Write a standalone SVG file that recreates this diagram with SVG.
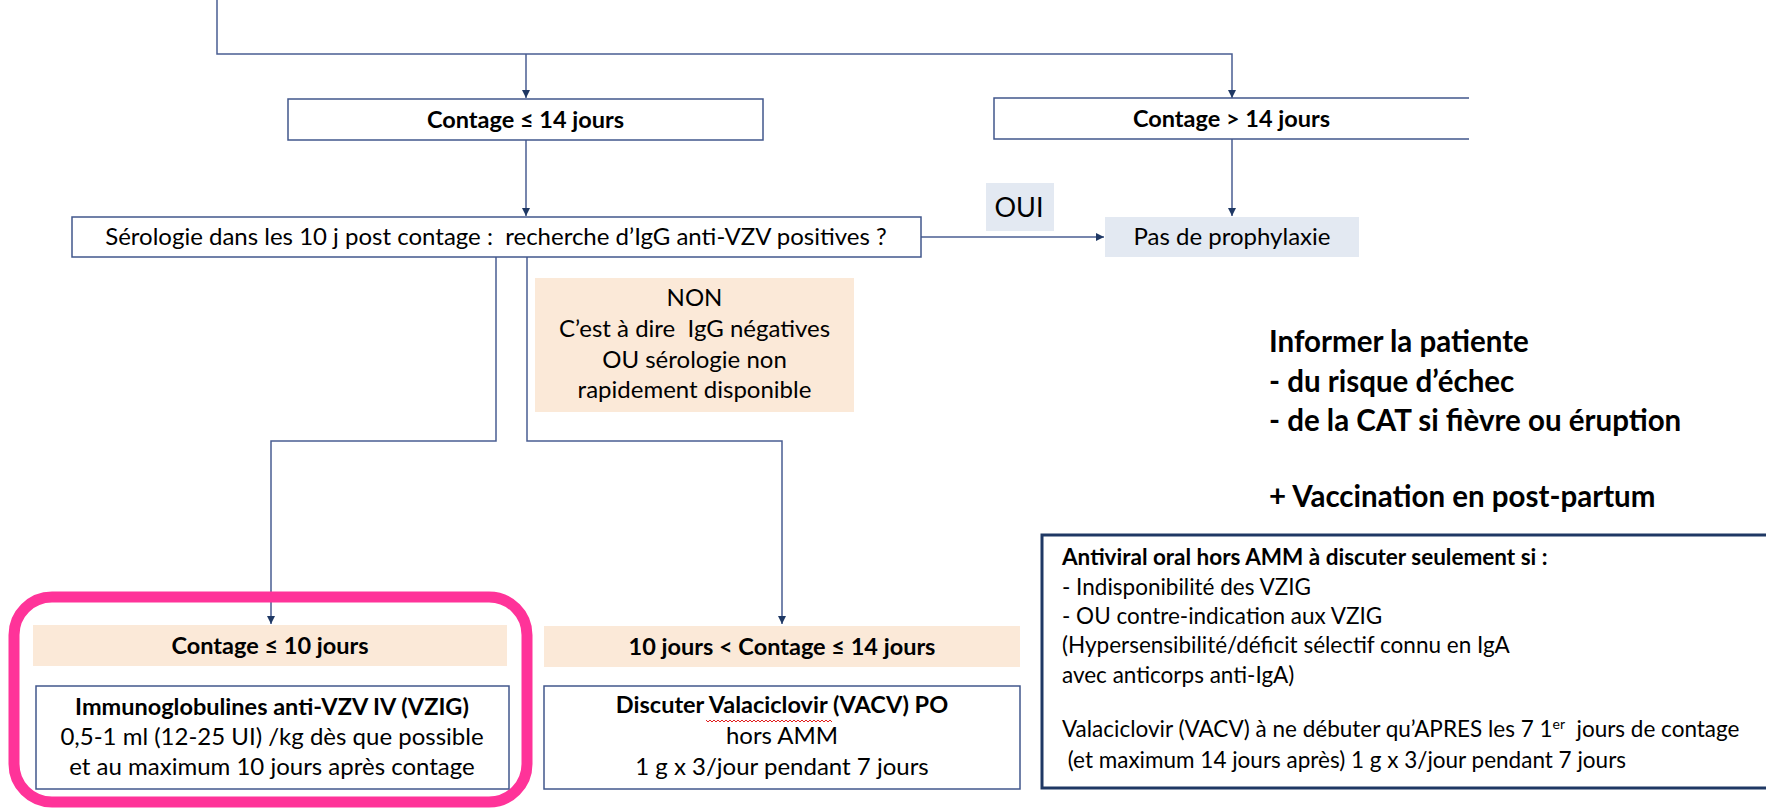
<svg xmlns="http://www.w3.org/2000/svg" width="1769" height="808" viewBox="0 0 1769 808">
<style>
text{font-family:Lato,"Open Sans","Liberation Sans",sans-serif;fill:#000}
.c{text-anchor:middle}
.b{font-weight:bold}
.box{fill:#fff;stroke:#41578C;stroke-width:1.5}
.peach{fill:#FBE9D8}
.blue{fill:#E3E9F2}
.con{fill:none;stroke:#4A5E92;stroke-width:1.5}
.t22{font-size:24px}
.tb{font-size:23.5px;font-weight:bold}
.big{font-size:29.5px;font-weight:bold}
.sm{font-size:22.5px}
</style>
<defs>
<marker id="ah" viewBox="0 0 10 10" refX="10" refY="5" markerWidth="8" markerHeight="8" markerUnits="userSpaceOnUse" orient="auto">
<path d="M0,0 L10,5 L0,10 z" fill="#1F3864"/>
</marker>
</defs>
<rect width="1769" height="808" fill="#fff"/>

<g id="connectors">
<path class="con" d="M217,0 V54 H1232 V98" marker-end="url(#ah)"/>
<path class="con" d="M526,54 V98" marker-end="url(#ah)"/>
<path class="con" d="M526,140 V216" marker-end="url(#ah)"/>
<path class="con" d="M1232,139 V216" marker-end="url(#ah)"/>
<path class="con" d="M921,237 H1104" marker-end="url(#ah)"/>
<path class="con" d="M496,257 V441 H271 V624" marker-end="url(#ah)"/>
<path class="con" d="M527,257 V441 H782 V624" marker-end="url(#ah)"/>
</g>

<g id="n-contage-le14">
<rect class="box" x="288" y="99" width="475" height="41"/>
<text class="c tb" x="525.5" y="128">Contage ≤ 14 jours</text>
</g>

<g id="n-contage-gt14">
<path d="M1469,98 H994 V139 H1469" fill="#fff" stroke="#41578C" stroke-width="1.5"/>
<text class="c tb" x="1231.5" y="127">Contage &gt; 14 jours</text>
</g>

<g id="n-serologie">
<rect class="box" x="72" y="217" width="849" height="40"/>
<text class="c t22" x="496" y="245">Sérologie dans les 10 j post contage :&#160; recherche d’IgG anti-VZV positives ?</text>
</g>

<g id="n-oui">
<rect class="blue" x="986" y="183" width="68" height="48"/>
<text class="c" x="1019" y="217" font-size="27">OUI</text>
</g>

<g id="n-pas-prophylaxie">
<rect class="blue" x="1105" y="217" width="254" height="40"/>
<text class="c t22" x="1232" y="245">Pas de prophylaxie</text>
</g>

<g id="n-non">
<rect class="peach" x="535" y="278" width="319" height="134"/>
<text class="c t22" x="694.5" y="306">NON</text>
<text class="c t22" x="694.5" y="337">C’est à dire&#160; IgG négatives</text>
<text class="c t22" x="694.5" y="367.5">OU sérologie non</text>
<text class="c t22" x="694.5" y="398">rapidement disponible</text>
</g>

<g id="n-informer">
<text class="big" x="1269" y="352">Informer la patiente</text>
<text class="big" x="1269" y="392">- du risque d’échec</text>
<text class="big" x="1269" y="431">- de la CAT si fièvre ou éruption</text>
<text class="big" x="1269" y="507">+ Vaccination en post-partum</text>
</g>

<g id="n-highlight">
<rect x="14" y="597" width="513" height="205" rx="38" ry="38" fill="none" stroke="#FF3399" stroke-width="11"/>
</g>

<g id="n-contage-le10">
<rect class="peach" x="33" y="625" width="474" height="41"/>
<text class="c tb" x="270" y="654">Contage ≤ 10 jours</text>
</g>

<g id="n-vzig">
<rect class="box" x="36" y="686" width="473" height="103"/>
<text class="c tb" x="272" y="715">Immunoglobulines anti-VZV IV (VZIG)</text>
<text class="c t22" x="272" y="745">0,5-1 ml (12-25 UI) /kg dès que possible</text>
<text class="c t22" x="272" y="775">et au maximum 10 jours après contage</text>
</g>

<g id="n-contage-10-14">
<rect class="peach" x="544" y="626" width="476" height="41"/>
<text class="c tb" x="782" y="655">10 jours &lt; Contage ≤ 14 jours</text>
</g>

<g id="n-valaciclovir">
<rect class="box" x="544" y="686" width="476" height="103"/>
<text class="c tb" x="782" y="713">Discuter Valaciclovir (VACV) PO</text>
<path d="M706,720 l2,2 l2,-2 l2,2 l2,-2 l2,2 l2,-2 l2,2 l2,-2 l2,2 l2,-2 l2,2 l2,-2 l2,2 l2,-2 l2,2 l2,-2 l2,2 l2,-2 l2,2 l2,-2 l2,2 l2,-2 l2,2 l2,-2 l2,2 l2,-2 l2,2 l2,-2 l2,2 l2,-2 l2,2 l2,-2 l2,2 l2,-2 l2,2 l2,-2 l2,2 l2,-2 l2,2 l2,-2 l2,2 l2,-2 l2,2 l2,-2 l2,2 l2,-2 l2,2 l2,-2 l2,2 l2,-2 l2,2 l2,-2 l2,2 l2,-2 l2,2 l2,-2 l2,2 l2,-2 l2,2 l2,-2 l2,2 l2,-2 l2,2" fill="none" stroke="#E02020" stroke-width="1"/>
<text class="c t22" x="782" y="744">hors AMM</text>
<text class="c t22" x="782" y="775">1 g x 3/jour pendant 7 jours</text>
</g>

<g id="n-antiviral">
<path d="M1766,535 H1042 V788 H1766" fill="#fff" stroke="#1F3864" stroke-width="3"/>
<text class="sm b" x="1062" y="565">Antiviral oral hors AMM à discuter seulement si :</text>
<text class="sm" x="1062" y="595">- Indisponibilité des VZIG</text>
<text class="sm" x="1062" y="624">- OU contre-indication aux VZIG</text>
<text class="sm" x="1062" y="653">(Hypersensibilité/déficit sélectif connu en IgA</text>
<text class="sm" x="1062" y="683">avec anticorps anti-IgA)</text>
<text class="sm" x="1062" y="737">Valaciclovir (VACV) à ne débuter qu’APRES les 7 1<tspan font-size="14" dy="-8">er</tspan><tspan dy="8">&#160; jours de contage</tspan></text>
<text class="sm" x="1062" y="768">&#160;(et maximum 14 jours après) 1 g x 3/jour pendant 7 jours</text>
</g>
</svg>
